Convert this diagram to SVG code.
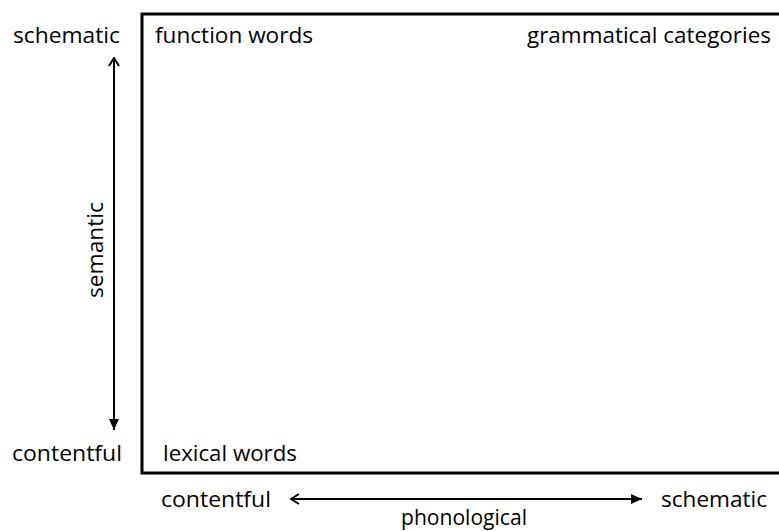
<svg xmlns="http://www.w3.org/2000/svg" width="779" height="531" viewBox="0 0 779 531">
<defs>
<marker id="open" markerWidth="12" markerHeight="12" refX="11" refY="6" orient="auto-start-reverse" markerUnits="userSpaceOnUse">
<path d="M3,1 L11,6 L3,11" fill="none" stroke="#000" stroke-width="2"/>
</marker>
<marker id="solid" markerWidth="12" markerHeight="12" refX="11" refY="6" orient="auto" markerUnits="userSpaceOnUse">
<path d="M0,1 L11,6 L0,11 Z" fill="#000"/>
</marker>
<style>
text{font-family:"Open Sans","Liberation Sans",sans-serif;font-size:21px;fill:#000}
.ax{fill:none;stroke:#000;stroke-width:2}
</style>
</defs>
<rect width="779" height="531" fill="#fff"/>
<g id="frame">
<path d="M781,14 L142,14 L142,473 L781,473" fill="none" stroke="#000" stroke-width="3"/>
</g>
<g id="connectors">
<line class="ax" x1="114" y1="58" x2="114" y2="430" marker-start="url(#open)" marker-end="url(#solid)"/>
<line class="ax" x1="291" y1="499" x2="642" y2="499" marker-start="url(#open)" marker-end="url(#solid)"/>
</g>
<g id="labels">
<text x="13" y="43" textLength="107" lengthAdjust="spacingAndGlyphs">schematic</text>
<text x="12" y="461" textLength="110" lengthAdjust="spacingAndGlyphs">contentful</text>
<text transform="translate(103,250) rotate(-90)" x="-48" y="0" textLength="96" lengthAdjust="spacingAndGlyphs">semantic</text>
<text x="161" y="507" textLength="110" lengthAdjust="spacingAndGlyphs">contentful</text>
<text x="661" y="507" textLength="106" lengthAdjust="spacingAndGlyphs">schematic</text>
<text x="401" y="525" textLength="126" lengthAdjust="spacingAndGlyphs">phonological</text>
</g>
<g id="function-words"><text x="155" y="43" textLength="158" lengthAdjust="spacingAndGlyphs">function words</text></g>
<g id="grammatical-categories"><text x="527" y="43" textLength="244" lengthAdjust="spacingAndGlyphs">grammatical categories</text></g>
<g id="lexical-words"><text x="163" y="461" textLength="134" lengthAdjust="spacingAndGlyphs">lexical words</text></g>
</svg>
